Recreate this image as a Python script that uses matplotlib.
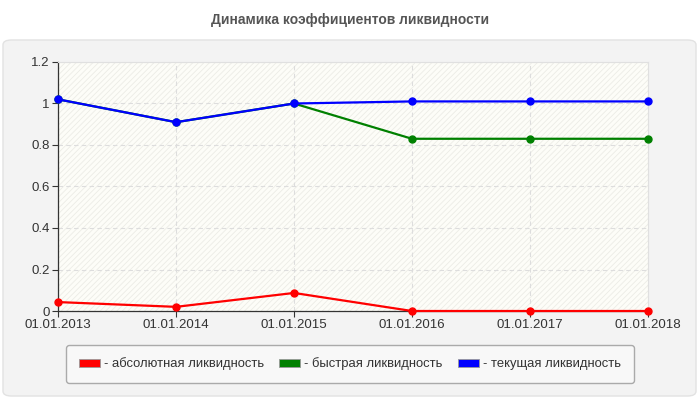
import matplotlib.pyplot as plt
from matplotlib.patches import FancyBboxPatch, Rectangle, Patch

# data
dates = ['01.01.2013', '01.01.2014', '01.01.2015', '01.01.2016', '01.01.2017', '01.01.2018']
absolute = [0.043, 0.02, 0.087, 0.0, 0.0, 0.0]
quick = [1.02, 0.91, 1.0, 0.83, 0.83, 0.83]
current = [1.02, 0.91, 1.0, 1.01, 1.01, 1.01]
labels = ['- абсолютная ликвидность', '- быстрая ликвидность', '- текущая ликвидность']
colors = ['#ff0000', '#008000', '#0000ff']

plt.rcParams['font.family'] = ['Arial', 'Liberation Sans', 'DejaVu Sans']
plt.rcParams['hatch.linewidth'] = 0.6
plt.rcParams['hatch.color'] = '#ecece6'

fig = plt.figure(figsize=(7, 4), dpi=100)
fig.patch.set_facecolor('white')

# outer rounded panel
panel = FancyBboxPatch((3 / 700, 4 / 400), 693 / 700, 356 / 400,
                       boxstyle='round,pad=0,rounding_size=0.012',
                       transform=fig.transFigure, facecolor='#f3f3f3',
                       edgecolor='#e2e2e2', linewidth=1, zorder=-5)
fig.patches.append(panel)

fig.text(0.5, 1 - 20 / 400, 'Динамика коэффициентов ликвидности', ha='center', va='center',
         fontsize=10, fontweight='bold', color='#555555')

ax = fig.add_axes([58 / 700, 1 - 311 / 400, 590 / 700, 249 / 400])
ax.set_facecolor('#fdfdf8')
ax.add_patch(Rectangle((0, 0), 1, 1, transform=ax.transAxes, facecolor='none',
                       hatch='//////', linewidth=0, zorder=0))

x = range(len(dates))
series = [absolute, quick, current]
for vals, c in zip(series, colors):
    ax.plot(x, vals, color=c, linewidth=1.6, marker='o', markersize=5, zorder=3, clip_on=False)

ax.set_xlim(0, len(dates) - 1)
ax.set_ylim(0, 1.2)
ax.set_xticks(list(x))
ax.set_xticklabels(dates)
ax.set_yticks([0, 0.2, 0.4, 0.6, 0.8, 1, 1.2])
ax.set_yticklabels(['0', '0.2', '0.4', '0.6', '0.8', '1', '1.2'])
ax.tick_params(labelsize=9.5, colors='#333333', length=4, width=0.8, pad=2)
ax.grid(True, color='#dddddd', linestyle=(0, (4, 3)), linewidth=0.8)
ax.set_axisbelow(True)
for s in ['top', 'right']:
    ax.spines[s].set_color('#e0e0e0')
for s in ['left', 'bottom']:
    ax.spines[s].set_color('#333333')
    ax.spines[s].set_linewidth(0.9)

handles = [Patch(facecolor=c, edgecolor='#999999', linewidth=0.6) for c in colors]
leg = fig.legend(handles, labels, loc='center', bbox_to_anchor=(350 / 700, 1 - 364 / 400),
                 ncol=3, fontsize=9.4, frameon=True, fancybox=True, handlelength=1.6,
                 handleheight=0.6, handletextpad=0.3, columnspacing=1.2,
                 borderpad=0.95, labelcolor='#333333')
leg.get_frame().set_facecolor('#f8f8f8')
leg.get_frame().set_edgecolor('#aaaaaa')
leg.get_frame().set_alpha(1)

fig.savefig('out.png', dpi=100)
